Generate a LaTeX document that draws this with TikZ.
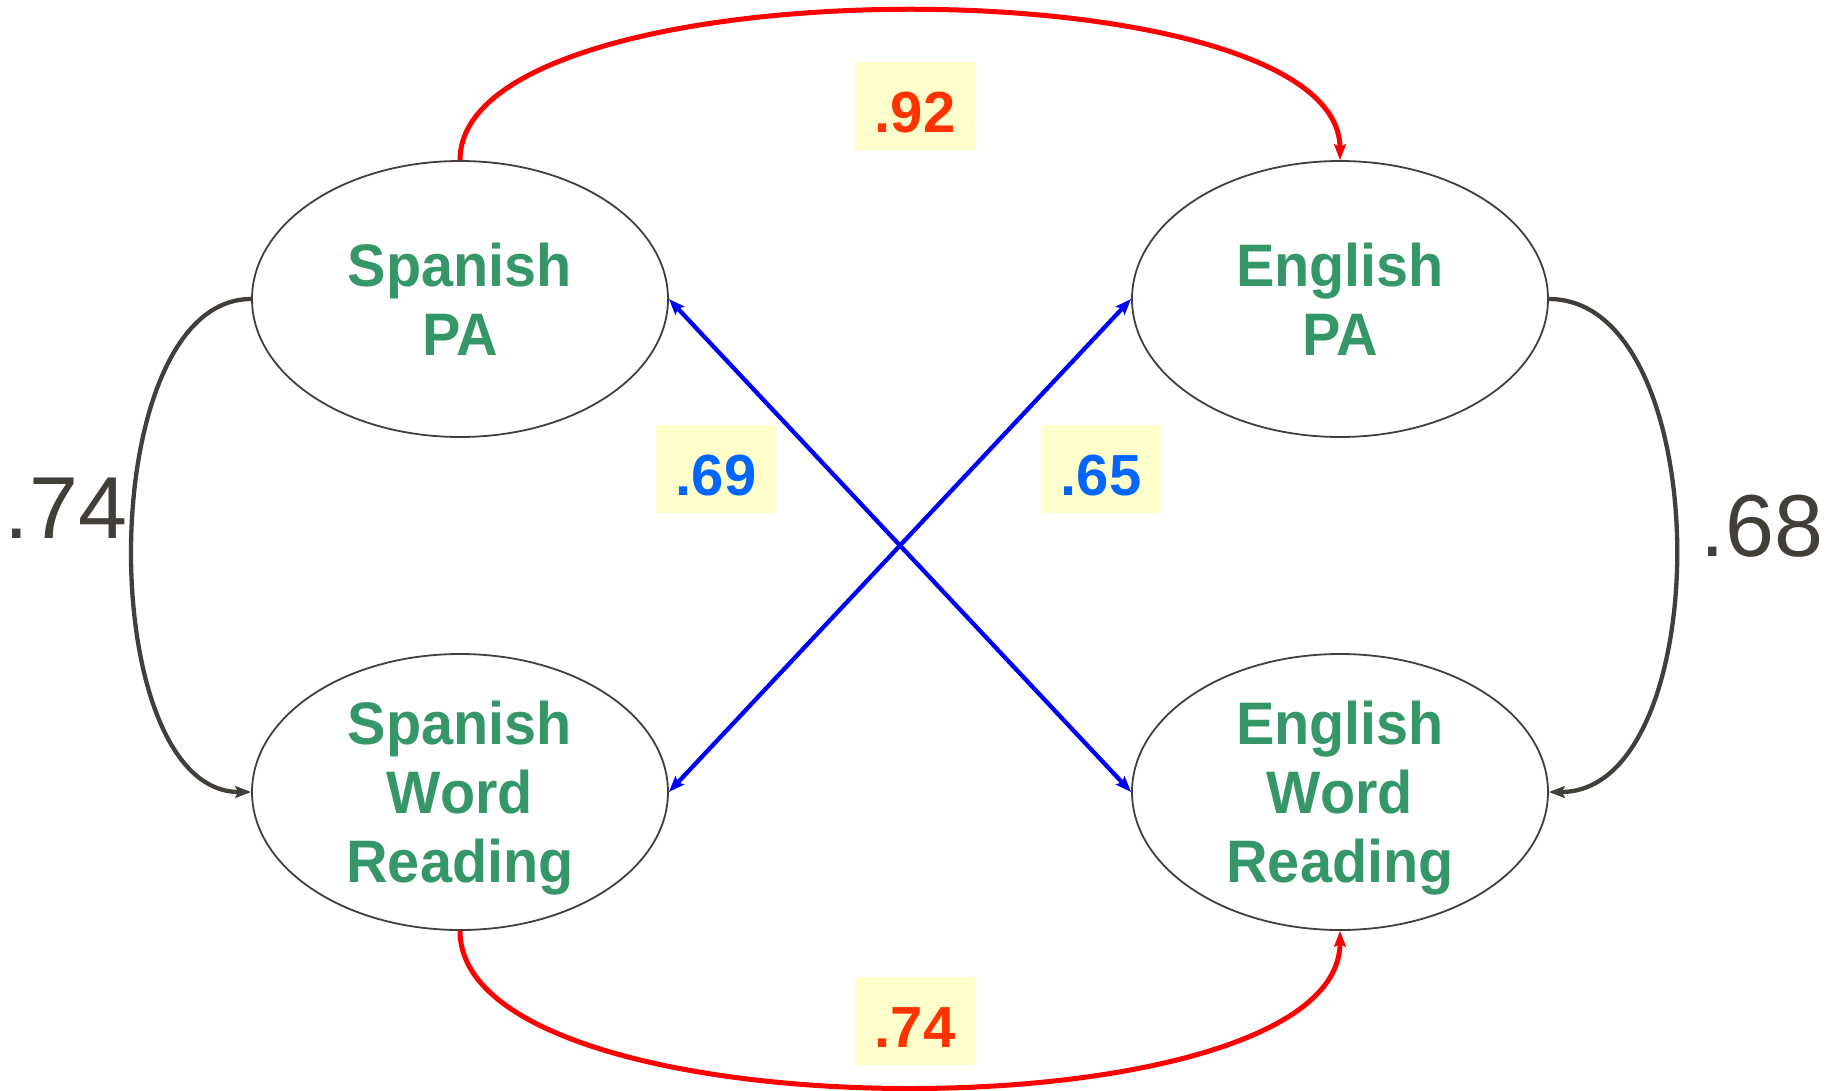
\documentclass[tikz,border=0pt]{standalone}
\usepackage{fontspec}
\setmainfont{Liberation Sans}
\newfontfamily\nodefont[FakeStretch=0.96]{Liberation Sans}
\usetikzlibrary{shapes.geometric,arrows.meta}
\definecolor{nodegreen}{RGB}{53,151,103}
\definecolor{edgegray}{RGB}{66,62,58}
\definecolor{labred}{RGB}{255,51,0}
\definecolor{labblue}{RGB}{0,102,255}
\definecolor{labfill}{RGB}{255,255,204}
\definecolor{pureblue}{RGB}{0,0,255}
\definecolor{purered}{RGB}{255,0,0}
\begin{document}
\begin{tikzpicture}[x=1pt,y=-1pt,
  latent/.style={ellipse,draw=edgegray,line width=1.8pt,minimum width=416pt,minimum height=276pt,inner sep=0pt,align=center,text=nodegreen,font=\nodefont\fontsize{60}{69}\selectfont\bfseries},
  redarc/.style={draw=purered,line width=5pt,-{Stealth[length=16pt,width=12pt,inset=3pt]}},
  bluearr/.style={draw=pureblue,line width=4.3pt,{Stealth[length=16pt,width=12pt,inset=3pt]}-{Stealth[length=16pt,width=12pt,inset=3pt]}},
  grayarc/.style={draw=edgegray,line width=4.3pt,-{Stealth[length=16pt,width=12pt,inset=3pt]}},
  coefbox/.style={fill=labfill,minimum width=120pt,minimum height=88pt,inner sep=0pt,text height=52pt,text depth=0pt,font=\fontsize{58}{58}\selectfont\bfseries},
  sidelab/.style={text=edgegray,inner sep=0pt,font=\fontsize{88}{88}\selectfont}]
\useasboundingbox (0,0) rectangle (1839,1090);
\node[latent] (spa) at (460,299) {Spanish\\PA};
\node[latent] (epa) at (1340,299) {English\\PA};
\node[latent,text depth=0pt] (swr) at (460,792) {Spanish\\Word\\Reading};
\node[latent,text depth=0pt] (ewr) at (1340,792) {English\\Word\\Reading};
\draw[redarc] (spa.north) .. controls (460,-39) and (1340,-39) .. (epa.north);
\draw[redarc] (swr.south) .. controls (460,1139) and (1340,1139) .. (ewr.south);
\draw[grayarc] (spa.west) .. controls (93,299) and (93,792) .. (swr.west);
\draw[grayarc] (epa.east) .. controls (1718,299) and (1718,792) .. (ewr.east);
\draw[bluearr] (spa.east) -- (ewr.west);
\draw[bluearr] (swr.east) -- (epa.west);
\node[coefbox,text=labred] (c92) at (915,106) {.92};
\node[coefbox,text=labred] (c74) at (915,1021) {.74};
\node[coefbox,text=labblue] (c69) at (716,469) {.69};
\node[coefbox,text=labblue] (c65) at (1101,469) {.65};
\node[sidelab] (l74) at (66,508) {.74};
\node[sidelab] (l68) at (1762,526) {.68};
\end{tikzpicture}
\end{document}
